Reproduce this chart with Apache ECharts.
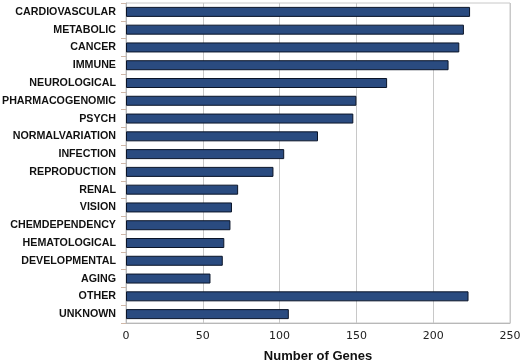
<!DOCTYPE html>
<html><head><meta charset="utf-8">
<script src="https://cdn.jsdelivr.net/npm/echarts@6/dist/echarts.min.js"></script>
<style>html,body{margin:0;padding:0;background:#fff}#c{width:520px;height:364px}</style>
</head><body><div id="c"></div>
<script>
const categories = ["CARDIOVASCULAR","METABOLIC","CANCER","IMMUNE","NEUROLOGICAL","PHARMACOGENOMIC","PSYCH","NORMALVARIATION","INFECTION","REPRODUCTION","RENAL","VISION","CHEMDEPENDENCY","HEMATOLOGICAL","DEVELOPMENTAL","AGING","OTHER","UNKNOWN"];
const genes = [224,220,217,210,170,150,148,125,103,96,73,69,68,64,63,55,223,106];
const xTicks = {min:0, max:250, interval:50};

const chart = echarts.init(document.getElementById('c'), null, {renderer:'canvas'});
chart.setOption({
  animation:false,
  backgroundColor:'#fff',
  grid:{left:126, right:10, top:3, bottom:41, outerBoundsMode:'none', containLabel:false,
    show:true, borderColor:'#c8c8c8', borderWidth:1},
  xAxis:{type:'value', min:xTicks.min, max:xTicks.max, interval:xTicks.interval,
    name:'Number of Genes', nameLocation:'middle', nameGap:27,
    nameTextStyle:{fontFamily:'Liberation Sans', fontWeight:'bold', fontSize:13, color:'#111'},
    axisLine:{show:true, lineStyle:{color:'#b8b8b8'}},
    axisTick:{show:false},
    axisLabel:{fontFamily:'DejaVu Sans', fontSize:11, color:'#222', margin:8},
    splitLine:{show:true, lineStyle:{color:'#c8c8c8', width:1}}
  },
  yAxis:{type:'category', data:categories, inverse:true,
    axisLine:{show:true, lineStyle:{color:'#b8b8b8'}},
    axisTick:{show:true, length:5, lineStyle:{color:'#d0b8a8'}},
    axisLabel:{fontFamily:'Liberation Sans', fontWeight:'bold', fontSize:10.7, color:'#111', margin:10}
  },
  series:[{type:'bar', data:genes, barWidth:10,
    itemStyle:{color:'#2a4b80', borderColor:'#0a1428', borderWidth:1}}]
});
</script></body></html>
